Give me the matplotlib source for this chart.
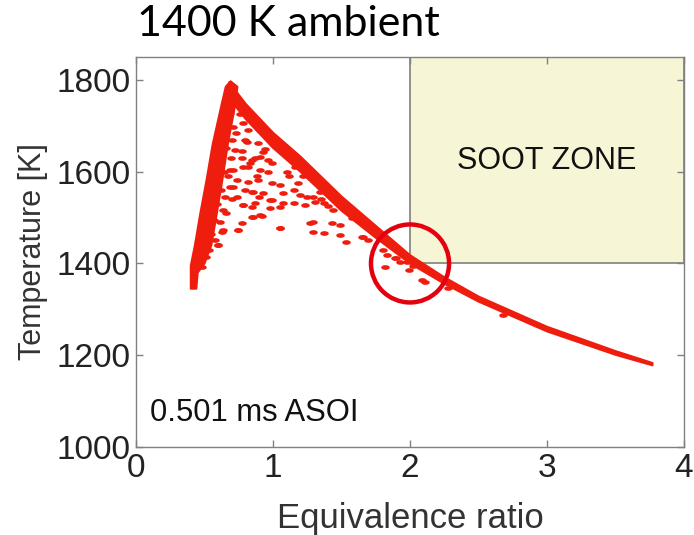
import matplotlib
matplotlib.use("Agg")
import matplotlib.pyplot as plt
from matplotlib.patches import Rectangle, Ellipse, Polygon
from matplotlib.path import Path
import numpy as np

# ---------------- data ----------------
# Dense left (lean) branch, outline polygon: up the outer edge, back down the inner edge
left_band_x = [0.40, 0.40, 0.43, 0.47, 0.515, 0.56, 0.62, 0.655, 0.69,
               0.74, 0.72, 0.67, 0.63, 0.59, 0.55, 0.50, 0.45, 0.44]
left_band_y = [1345, 1395, 1440, 1510, 1582, 1660, 1740, 1785, 1797,
               1785, 1740, 1660, 1582, 1510, 1440, 1400, 1380, 1345]

# Dense main (rich) branch, outline polygon: upper edge then lower edge back
main_band_x = [0.68, 0.80, 1.00, 1.20, 1.50, 1.75, 2.00, 2.25, 2.50, 3.00, 3.50, 3.77,
               3.77, 3.50, 3.00, 2.50, 2.25, 2.00, 1.75, 1.50, 1.20, 1.00, 0.80, 0.72]
main_band_y = [1795, 1748, 1685, 1633, 1546, 1482, 1418, 1370, 1328, 1262, 1209, 1183,
               1178, 1201, 1252, 1317, 1356, 1400, 1456, 1515, 1600, 1652, 1715, 1745]

# Sparse interior samples
pts_x = [0.796, 0.771, 0.869, 0.832, 0.89, 0.927, 0.965, 0.99, 0.783, 0.71, 0.735, 0.82,
         0.893, 0.99, 1.05, 0.686, 0.796, 0.856, 0.93, 1.07, 1.15, 1.20, 1.25, 1.31,
         0.65, 0.99, 0.869, 1.07, 1.15, 0.783, 0.635, 0.978, 0.856, 0.92, 0.613, 0.774,
         1.05, 0.745, 0.628, 1.27, 1.29, 0.577, 0.60,
         1.23, 1.29, 1.37, 1.44, 1.29, 1.43, 1.49, 1.37, 1.49, 1.53, 1.65, 1.69,
         1.80, 1.83, 1.90, 1.82, 1.98, 1.99, 1.89, 1.93, 2.09, 2.11, 2.28, 1.66, 2.68,
         0.686, 0.71, 0.70, 0.66, 0.72, 0.81, 0.77, 0.85, 0.905, 0.82, 0.686, 0.905,
         0.78, 0.82, 0.83,
         0.71, 0.85, 0.78, 0.85, 0.98, 1.05, 0.85, 0.905, 0.745, 1.05, 0.635, 0.60, 0.48,
         1.12, 1.18, 1.35, 1.40, 1.58, 1.62, 1.72, 2.02,
         0.75, 0.76, 0.73, 0.69, 0.67, 0.64, 0.62, 0.59, 0.57, 0.55, 0.53, 0.51,
         0.94, 0.96, 0.88, 1.10, 1.16, 1.22, 0.70, 0.74, 0.66, 0.90, 1.34, 1.45]
pts_y = [1669, 1644, 1629, 1619, 1662, 1643, 1626, 1619, 1610, 1604, 1582, 1578,
         1582, 1576, 1571, 1567, 1560, 1556, 1554, 1554, 1560, 1549, 1545, 1534,
         1545, 1538, 1532, 1532, 1532, 1528, 1517, 1521, 1501, 1503, 1490, 1488,
         1477, 1473, 1469, 1488, 1469, 1451, 1440,
         1528, 1545, 1532, 1517, 1490, 1488, 1484, 1466, 1462, 1447, 1458, 1451,
         1429, 1419, 1412, 1392, 1403, 1386, 1412, 1403, 1364, 1360, 1347, 1458, 1288,
         1728, 1698, 1669, 1652, 1647, 1665, 1630, 1626, 1632, 1610, 1604, 1604,
         1706, 1691, 1713,
         1567, 1556, 1528, 1523, 1538, 1523, 1501, 1506, 1473, 1477, 1473, 1440, 1392,
         1590, 1575, 1540, 1525, 1500, 1495, 1470, 1395,
         1750, 1725, 1685, 1630, 1590, 1600, 1560, 1530, 1495, 1465, 1430, 1415,
         1650, 1600, 1590, 1600, 1610, 1590, 1540, 1545, 1510, 1545, 1555, 1545]

soot_zone_x = [2.0, 4.0]
soot_zone_y = [1400, 1850]
marker_center = (2.0, 1400)

x_ticks = [0, 1, 2, 3, 4]
y_ticks = [1000, 1200, 1400, 1600, 1800]

# ---------------- styling ----------------
red = '#EE1D0E'
sans = ['Liberation Sans', 'DejaVu Sans']

fig = plt.figure(figsize=(6.94, 5.35), dpi=100)
ax = fig.add_axes([0.196, 0.1645, 0.7896, 0.729])

ax.set_xlim(0, 4)
ax.set_ylim(1000, 1850)

# soot zone
ax.add_patch(Rectangle((soot_zone_x[0], soot_zone_y[0]),
                       soot_zone_x[1] - soot_zone_x[0], soot_zone_y[1] - soot_zone_y[0],
                       facecolor='#F6F6D6', edgecolor='#8A8A80', lw=1.3, zorder=1))
ax.text(3.0, 1623, 'SOOT ZONE', ha='center', va='center', fontsize=22,
        family=sans, color='#111111', zorder=2)

# dense bands
ax.add_patch(Polygon(np.column_stack([left_band_x, left_band_y]), closed=True,
                     facecolor=red, edgecolor=red, lw=1.5, joinstyle='round', zorder=3))
ax.add_patch(Polygon(np.column_stack([main_band_x, main_band_y]), closed=True,
                     facecolor=red, edgecolor=red, lw=1.5, joinstyle='round', zorder=3))

# sparse dash-like samples
t = np.linspace(0, 2 * np.pi, 25)
dash = Path(np.column_stack([np.cos(t), 0.55 * np.sin(t)]))
ax.scatter(pts_x, pts_y, marker=dash, s=38, color=red, linewidths=0, zorder=3)

# highlight circle
ax.add_patch(Ellipse(marker_center, width=0.57, height=170, fill=False,
                     edgecolor='#E50010', lw=3.2, zorder=4))

ax.text(0.1, 1074, '0.501 ms ASOI', ha='left', va='center', fontsize=22.3,
        family=sans, color='#111111')

ax.set_xticks(x_ticks)
ax.set_yticks(y_ticks)
ax.tick_params(direction='in', length=5, width=1, color='#808080',
               top=True, right=True, labelsize=24, pad=4, labelcolor='#222222')
for lab in ax.get_xticklabels() + ax.get_yticklabels():
    lab.set_family(sans)
for s in ax.spines.values():
    s.set_color('#808080')
    s.set_linewidth(1.0)

ax.set_xlabel('Equivalence ratio', fontsize=25, family=sans, color='#333333', labelpad=13)
ax.set_ylabel('Temperature [K]', fontsize=22, family=sans, color='#333333', labelpad=6)

fig.text(0.197, 0.955, '1400 K ambient', ha='left', va='center', fontsize=31,
         family=['Lato', 'Open Sans', 'DejaVu Sans'], color='black')

fig.savefig('out.png', dpi=100)
